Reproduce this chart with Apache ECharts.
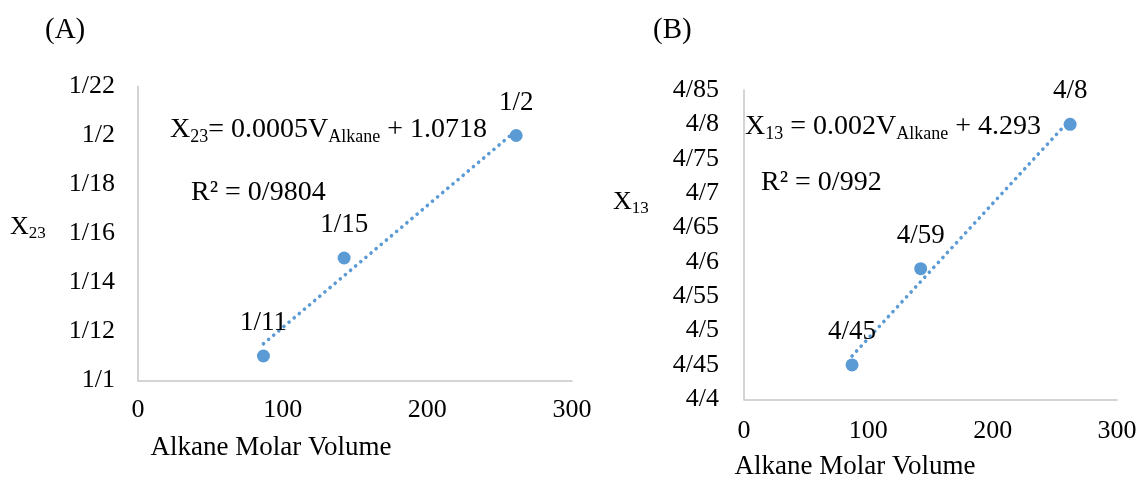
<!DOCTYPE html>
<html>
<head>
<meta charset="utf-8">
<script src="https://cdn.jsdelivr.net/npm/echarts@6/dist/echarts.min.js"></script>
<style>
html,body{margin:0;padding:0;background:#fff;}
#chart{width:1141px;height:477px;}
</style>
</head>
<body>
<div id="chart"></div>
<script>
// ---- data ----
const xTicks = ['0', '100', '200', '300'];

const xA = [86.7, 142.5, 261.4];
const yA = [1.11, 1.15, 1.20];
const labelsA = ['1/11', '1/15', '1/2'];
const yTicksA = ['1/1', '1/12', '1/14', '1/16', '1/18', '1/2', '1/22'];
const trendAx = [86.7, 261.4];
const trendAy = [1.115, 1.202];

const xB = [86.9, 142.1, 262.3];
const yB = [4.45, 4.59, 4.80];
const labelsB = ['4/45', '4/59', '4/8'];
const yTicksB = ['4/4', '4/45', '4/5', '4/55', '4/6', '4/65', '4/7', '4/75', '4/8', '4/85'];
const trendBx = [86.9, 262.3];
const trendBy = [4.463, 4.807];

// ---- chart ----
const FONT = '"Liberation Serif", "Times New Roman", serif';
const BLUE = '#5B9BD5';
const chart = echarts.init(document.getElementById('chart'), null, {renderer: 'canvas'});

function pairs(xs, ys) { return xs.map((x, i) => [x, ys[i]]); }

function xAxisCfg(gridIndex, margin) {
  return {
    type: 'value', gridIndex, min: 0, max: 300, interval: 100,
    axisLine: {show: true, lineStyle: {color: '#c6c6c6', width: 1.5}},
    axisTick: {show: false}, splitLine: {show: false},
    axisLabel: {
      margin, fontFamily: FONT, fontSize: 26, color: '#000',
      formatter: (v) => xTicks[Math.round(v / 100)]
    }
  };
}
function yAxisCfg(gridIndex, min, max, interval, ticks, margin) {
  return {
    type: 'value', gridIndex, min, max, interval,
    axisLine: {show: true, lineStyle: {color: '#c6c6c6', width: 1.5}},
    axisTick: {show: false}, splitLine: {show: false},
    axisLabel: {
      margin, fontFamily: FONT, fontSize: 26, color: '#000',
      formatter: (v) => ticks[Math.round((v - min) / interval)]
    }
  };
}
function scatterCfg(idx, xs, ys, labels) {
  return {
    type: 'scatter', xAxisIndex: idx, yAxisIndex: idx,
    data: pairs(xs, ys), symbolSize: 13, z: 3,
    itemStyle: {color: BLUE, opacity: 1},
    label: {
      show: true, position: 'top', distance: 13,
      fontFamily: FONT, fontSize: 27, color: '#000',
      formatter: (p) => labels[p.dataIndex]
    }
  };
}
function trendCfg(idx, xs, ys) {
  return {
    type: 'line', xAxisIndex: idx, yAxisIndex: idx,
    data: pairs(xs, ys), showSymbol: false, symbol: 'none', z: 2,
    lineStyle: {color: BLUE, width: 3.6, type: [0.1, 6.6], cap: 'round'},
    silent: true
  };
}

const rich = {
  m: {fontFamily: FONT, fontSize: 28, color: '#000', lineHeight: 32},
  s: {fontFamily: FONT, fontSize: 18, color: '#000', lineHeight: 16, verticalAlign: 'bottom'},
  m2: {fontFamily: FONT, fontSize: 26, color: '#000', lineHeight: 30},
  s2: {fontFamily: FONT, fontSize: 17, color: '#000', lineHeight: 15, verticalAlign: 'bottom'}
};
function txt(x, y, text, size, align) {
  return {
    type: 'text', x, y, silent: true,
    style: {
      text, rich, fontFamily: FONT, fontSize: size || 28, fill: '#000',
      align: align || 'left', verticalAlign: 'middle'
    }
  };
}

const option = {
  backgroundColor: '#fff',
  animation: false,
  grid: [
    {left: 138, top: 86.5, width: 434, height: 294},
    {left: 744, top: 90, width: 373, height: 309.3}
  ],
  xAxis: [xAxisCfg(0, 17), xAxisCfg(1, 19)],
  yAxis: [
    yAxisCfg(0, 1.10, 1.22, 0.02, yTicksA, 23),
    yAxisCfg(1, 4.40, 4.85, 0.05, yTicksB, 25)
  ],
  series: [
    trendCfg(0, trendAx, trendAy),
    scatterCfg(0, xA, yA, labelsA),
    trendCfg(1, trendBx, trendBy),
    scatterCfg(1, xB, yB, labelsB)
  ],
  graphic: [
    txt(45, 30, '(A)', 29),
    txt(653, 30, '(B)', 29),
    txt(10, 227, '{m2|X}{s2|23}'),
    txt(613, 202, '{m2|X}{s2|13}'),
    txt(170, 130, '{m|X}{s|23}{m|= 0.0005V}{s|Alkane}{m| + 1.0718}'),
    txt(191, 193, 'R² = 0/9804', 28),
    txt(745, 127, '{m|X}{s|13}{m| = 0.002V}{s|Alkane}{m| + 4.293}'),
    txt(761, 183, 'R² = 0/992', 28),
    txt(271, 448, 'Alkane Molar Volume', 27, 'center'),
    txt(855, 467, 'Alkane Molar Volume', 27, 'center')
  ]
};
chart.setOption(option);
</script>
</body>
</html>
